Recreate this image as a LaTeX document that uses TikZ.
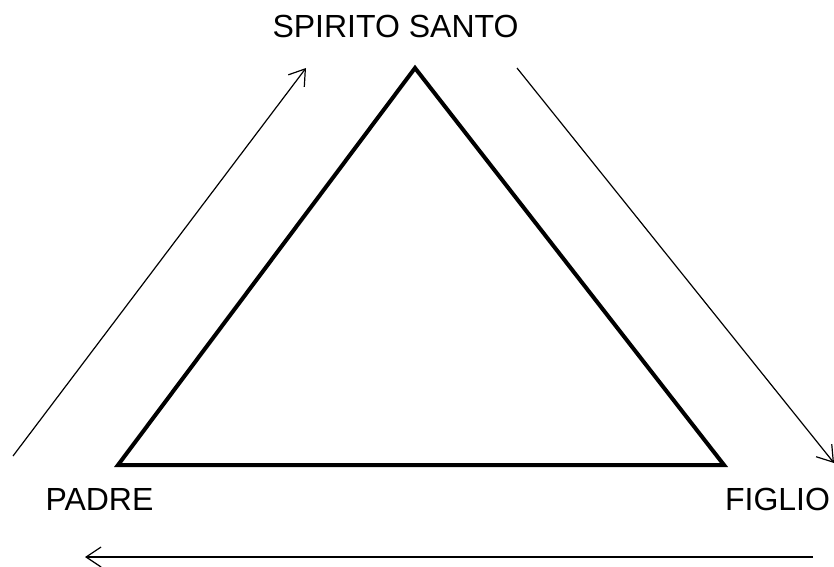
\documentclass[tikz,border=0pt]{standalone}
\usepackage{fontspec}
\setmainfont{Liberation Sans}
\usetikzlibrary{arrows.meta}
\begin{document}
\begin{tikzpicture}[x=1pt,y=-1pt,
  lbl/.style={anchor=base,inner sep=0pt,font=\fontsize{32}{38}\selectfont},
  tri/.style={line width=4pt,line join=miter},
  flow/.style={line width=1.2pt,-{Straight Barb[length=15pt,width=20pt,line width=1.2pt]}}]
\useasboundingbox (0,0) rectangle (834,566);
\node[lbl] (s) at (395.5,37) {SPIRITO SANTO};
\node[lbl] (p) at (99.5,510) {PADRE};
\node[lbl] (f) at (777.5,510) {FIGLIO};
\coordinate (A) at (415,68);
\coordinate (B) at (118,465);
\coordinate (C) at (724,465);
\draw[tri] (A) -- (B) -- (C) -- cycle;
\coordinate (l1) at (13,456);
\coordinate (l2) at (306,68);
\coordinate (r1) at (517,68);
\coordinate (r2) at (834,463);
\coordinate (b1) at (813,557);
\coordinate (b2) at (85,557);
\draw[flow] (l1) -- (l2);
\draw[flow] (r1) -- (r2);
\draw[flow] (b1) -- (b2);
\end{tikzpicture}
\end{document}
